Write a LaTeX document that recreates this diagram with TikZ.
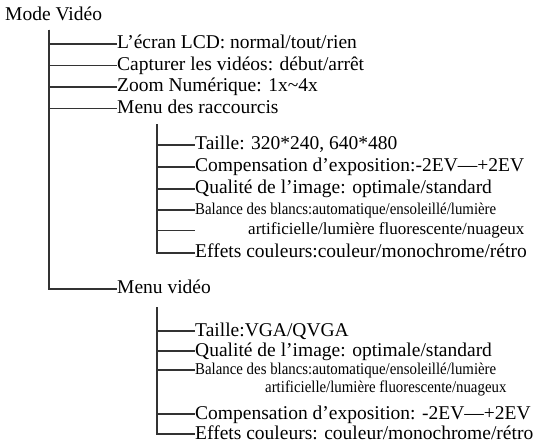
\documentclass[tikz,border=0pt]{standalone}
\usepackage{fontspec}
\setmainfont{Liberation Serif}
\newfontfamily\narrowserif[FakeStretch=0.9]{Liberation Serif}
\usetikzlibrary{positioning}

\begin{document}
\begin{tikzpicture}[x=1pt, y=-1pt, node distance=21.5pt,
  menu node/.style={anchor=west, inner sep=0pt, text height=14pt, text depth=4pt, font=\fontsize{19.5}{22}\selectfont},
  mid node/.style={menu node, text height=12.5pt, text depth=3.5pt, font=\fontsize{17}{19}\selectfont},
  small node/.style={menu node, text height=12pt, text depth=3.5pt, font=\narrowserif\fontsize{16.5}{18}\selectfont},
  tree line/.style={draw=black!80, line width=1.2pt},
  tree edge/.style={to path={|- (\tikztotarget)}}]
\useasboundingbox (0,0) rectangle (540,443);

\node[menu node] (mode) at (5,16) {Mode Vidéo};
\node[menu node] (lcd) at (117,44) {L’écran LCD: normal/tout/rien};
\node[menu node, below=of lcd.west, anchor=west]      (capture)  {Capturer les vidéos: début/arrêt};
\node[menu node, below=of capture.west, anchor=west]  (zoom)     {Zoom Numérique: 1x\textasciitilde4x};
\node[menu node, below=of zoom.west, anchor=west]     (shortcut) {Menu des raccourcis};

% menu des raccourcis
\node[menu node, below right=36.5pt and 78pt of shortcut.west, anchor=west] (taille1)   {Taille: 320*240, 640*480};
\node[menu node, below=22pt of taille1.west, anchor=west]   (expo1)    {Compensation d’exposition:-2EV—+2EV};
\node[menu node, below=22pt of expo1.west, anchor=west]     (quality1) {Qualité de l’image: optimale/standard};
\node[small node, below=21pt of quality1.west, anchor=west] (balance1) {Balance des blancs:automatique/ensoleillé/lumière};
\node[mid node, below right=20.5pt and 53pt of balance1.west, anchor=west] (artif1) {artificielle/lumière fluorescente/nuageux};
\node[menu node, below left=22.5pt and 53pt of artif1.west, anchor=west]   (colour1) {Effets couleurs:couleur/monochrome/rétro};

% menu video
\node[menu node, below=180.5pt of shortcut.west, anchor=west] (video) {Menu vidéo};
\node[menu node, below right=42pt and 78pt of video.west, anchor=west] (taille2) {Taille:VGA/QVGA};
\node[menu node, below=20pt of taille2.west, anchor=west]   (quality2) {Qualité de l’image: optimale/standard};
\node[small node, below=19pt of quality2.west, anchor=west] (balance2) {Balance des blancs:automatique/ensoleillé/lumière};
\node[small node, below right=18pt and 70pt of balance2.west, anchor=west] (artif2) {artificielle/lumière fluorescente/nuageux};
\node[menu node, below left=26pt and 70pt of artif2.west, anchor=west]     (expo2)   {Compensation d’exposition: -2EV—+2EV};
\node[menu node, below=20pt of expo2.west, anchor=west]     (colour2)  {Effets couleurs: couleur/monochrome/rétro};

\coordinate (trunk) at ([xshift=44pt, yshift=-14pt]mode.west);
\coordinate (fork1) at ([xshift=40pt, yshift=-16pt]shortcut.west);
\coordinate (fork2) at ([xshift=40pt, yshift=-18pt]video.west);
\coordinate (gap1)  at (taille1.west |- artif1.west);

\path[tree line]
(trunk) edge[tree edge] (lcd.west)
        edge[tree edge] (capture.west)
        edge[tree edge] (zoom.west)
        edge[tree edge] (shortcut.west)
        edge[tree edge] (video.west)
(fork1) edge[tree edge] (taille1.west)
        edge[tree edge] (expo1.west)
        edge[tree edge] (quality1.west)
        edge[tree edge] (balance1.west)
        edge[tree edge] (gap1)
        edge[tree edge] (colour1.west)
(fork2) edge[tree edge] (taille2.west)
        edge[tree edge] (quality2.west)
        edge[tree edge] (balance2.west)
        edge[tree edge] (expo2.west)
        edge[tree edge] (colour2.west)
;
\end{tikzpicture}
\end{document}
